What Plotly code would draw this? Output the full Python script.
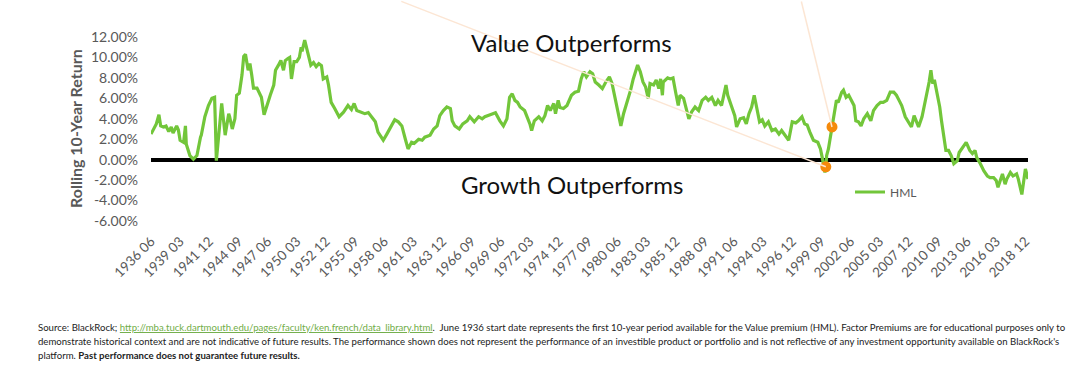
import plotly.graph_objects as go

# ---- data ----
dates = [
    "1936-06", "1936-09", "1936-12", "1937-03", "1937-05", "1937-08", "1937-11", "1938-02", "1938-05", "1938-07",
    "1938-11", "1939-01", "1939-03", "1939-07", "1939-09", "1939-10", "1940-02", "1940-06", "1940-10", "1941-02",
    "1941-03", "1941-07", "1941-11", "1942-03", "1942-06", "1942-07", "1942-08", "1942-11", "1943-02", "1943-06",
    "1943-08", "1943-10", "1943-11", "1944-02", "1944-05", "1944-07", "1944-10", "1945-01", "1945-03", "1945-05",
    "1945-08", "1945-10", "1945-12", "1946-02", "1946-06", "1946-08", "1946-11", "1947-02", "1947-05", "1947-09",
    "1948-01", "1948-03", "1948-06", "1948-09", "1948-12", "1949-02", "1949-05", "1949-07", "1949-09", "1949-12",
    "1950-03", "1950-06", "1950-08", "1950-09", "1950-12", "1951-03", "1951-07", "1951-10", "1952-01", "1952-04",
    "1952-07", "1952-09", "1953-01", "1953-03", "1953-06", "1953-10", "1954-03", "1954-08", "1955-01", "1955-05",
    "1955-08", "1955-11", "1956-05", "1956-08", "1956-12", "1957-04", "1957-08", "1957-11", "1958-05", "1958-09",
    "1959-02", "1959-06", "1959-10", "1960-02", "1960-06", "1960-09", "1961-01", "1961-04", "1961-09", "1962-01",
    "1962-04", "1962-10", "1963-02", "1963-06", "1963-09", "1964-01", "1964-05", "1964-09", "1964-11", "1965-02",
    "1965-07", "1965-11", "1966-04", "1966-07", "1966-12", "1967-05", "1967-09", "1967-12", "1968-06", "1968-12",
    "1969-05", "1969-09", "1970-01", "1970-04", "1970-07", "1970-10", "1971-01", "1971-04", "1971-09", "1972-01",
    "1972-03", "1972-05", "1972-08", "1973-01", "1973-05", "1973-08", "1973-11", "1974-02", "1974-06", "1974-08",
    "1974-11", "1975-01", "1975-05", "1975-09", "1976-02", "1976-06", "1976-10", "1977-01", "1977-04", "1977-07",
    "1977-11", "1978-02", "1978-05", "1978-09", "1979-01", "1979-05", "1979-09", "1979-12", "1980-04", "1980-07",
    "1980-10", "1981-01", "1981-05", "1981-09", "1981-12", "1982-03", "1982-05", "1982-08", "1982-11", "1983-02",
    "1983-05", "1983-07", "1983-11", "1984-02", "1984-05", "1984-07", "1984-09", "1984-10", "1985-03", "1985-06",
    "1985-09", "1985-12", "1986-03", "1986-05", "1986-09", "1987-01", "1987-03", "1987-06", "1987-10", "1988-02",
    "1988-06", "1988-10", "1989-01", "1989-05", "1989-09", "1989-12", "1990-04", "1990-09", "1990-11", "1991-03",
    "1991-07", "1991-09", "1992-01", "1992-05", "1992-08", "1992-11", "1993-02", "1993-05", "1993-08", "1993-11",
    "1994-02", "1994-05", "1994-09", "1995-01", "1995-05", "1995-09", "1995-12", "1996-04", "1996-08", "1996-12",
    "1997-04", "1997-07", "1997-11", "1998-02", "1998-05", "1998-08", "1998-12", "1999-05", "1999-08", "1999-10",
    "2000-01", "2000-02", "2000-03", "2000-05", "2000-09", "2000-11", "2001-02", "2001-04", "2001-08", "2001-10",
    "2002-01", "2002-04", "2002-07", "2002-10", "2002-12", "2003-03", "2003-06", "2003-09", "2004-01", "2004-05",
    "2004-08", "2004-12", "2005-04", "2005-07", "2005-11", "2006-03", "2006-07", "2006-10", "2007-01", "2007-04",
    "2007-08", "2007-12", "2008-03", "2008-06", "2008-08", "2008-11", "2009-03", "2009-06", "2009-09", "2009-11",
    "2010-01", "2010-03", "2010-05", "2010-08", "2010-11", "2011-01", "2011-04", "2011-06", "2011-09", "2011-12",
    "2012-03", "2012-07", "2012-09", "2013-01", "2013-05", "2013-09", "2013-12", "2014-03", "2014-05", "2014-09",
    "2015-01", "2015-05", "2015-08", "2015-12", "2016-03", "2016-05", "2016-08", "2016-10", "2017-01", "2017-03",
    "2017-07", "2017-10", "2018-02", "2018-04", "2018-08", "2018-10", "2018-12", "2019-03",
]
hml = [
    2.5, 3.0, 3.5, 4.4, 3.3, 3.2, 3.3, 2.75, 3.2, 2.6,
    3.3, 2.9, 1.9, 1.7, 3.3, 1.5, 0.4, 0.05, 0.4, 2.2,
    2.4, 4.2, 5.3, 6.0, 6.1, 3.3, -0.1, 2.7, 5.5, 2.4,
    3.7, 4.5, 4.2, 3.0, 4.0, 6.3, 6.5, 8.3, 10.1, 10.3,
    8.75, 9.4, 8.3, 7.0, 7.0, 6.6, 6.1, 4.4, 5.3, 6.3,
    7.3, 8.75, 9.2, 9.7, 8.75, 9.7, 9.9, 10.0, 7.9, 9.6,
    9.6, 10.0, 11.0, 10.6, 11.7, 10.55, 9.25, 9.5, 9.1, 9.4,
    9.2, 7.9, 8.1, 7.3, 5.6, 5.0, 4.2, 4.65, 5.3, 4.9,
    5.5, 4.8, 4.65, 4.5, 4.6, 4.2, 3.7, 2.7, 1.9, 2.5,
    3.3, 3.9, 3.7, 3.3, 2.0, 1.05, 1.7, 1.6, 2.0, 1.9,
    2.2, 2.4, 3.0, 3.3, 4.3, 4.8, 5.15, 5.0, 3.8, 3.3,
    3.0, 3.5, 3.8, 4.2, 3.7, 4.2, 4.0, 4.2, 4.4, 4.6,
    3.8, 3.3, 4.0, 6.1, 6.45, 5.8, 5.6, 5.15, 4.8, 4.0,
    3.5, 2.85, 3.8, 4.2, 3.8, 4.3, 5.3, 4.8, 5.5, 4.5,
    5.8, 5.1, 5.0, 5.3, 6.3, 6.6, 6.7, 7.9, 8.6, 8.1,
    8.6, 8.4, 7.6, 7.3, 6.95, 7.6, 8.1, 7.45, 5.8, 4.65,
    3.3, 4.5, 5.6, 6.8, 7.9, 8.75, 9.25, 8.6, 7.6, 7.1,
    6.0, 7.45, 7.3, 7.8, 6.95, 7.9, 6.3, 7.6, 8.0, 7.9,
    8.0, 6.6, 5.3, 6.3, 6.0, 4.65, 4.0, 4.65, 5.15, 4.8,
    5.8, 6.1, 5.8, 6.1, 5.3, 5.8, 5.3, 7.3, 6.3, 5.3,
    4.3, 3.2, 4.0, 4.1, 3.5, 4.5, 5.15, 6.3, 5.15, 3.7,
    3.9, 3.3, 3.7, 2.85, 3.0, 2.5, 2.85, 2.4, 1.9, 3.7,
    3.6, 3.8, 4.2, 3.5, 3.4, 2.7, 1.9, 1.7, 1.05, 0.2,
    -1.25, -0.7, 0.4, 1.05, 3.2, 4.4, 5.8, 5.6, 6.6, 6.8,
    6.1, 6.3, 5.8, 5.3, 3.8, 3.7, 3.3, 4.0, 4.5, 3.8,
    4.8, 5.3, 5.6, 5.6, 5.8, 6.6, 6.6, 6.3, 5.8, 5.3,
    4.2, 3.7, 3.2, 4.3, 3.8, 3.2, 4.2, 5.5, 6.45, 7.6,
    8.75, 7.45, 7.8, 6.45, 5.15, 3.8, 2.2, 0.9, 0.9, 0.4,
    -0.4, -0.1, 0.7, 1.2, 1.7, 0.9, 0.6, 0.9, 0.2, -0.4,
    -1.1, -1.6, -1.75, -1.75, -2.05, -2.7, -1.75, -1.4, -2.4, -1.9,
    -1.25, -1.6, -1.4, -1.9, -3.4, -2.2, -0.9, -1.9,
]
highlight_dates = ["2000-02", "2000-09"]
highlight_values = [-0.7, 3.2]

y_ticks = [-6, -4, -2, 0, 2, 4, 6, 8, 10, 12]
x_tick_start = "1936-06"
x_tick_step_months = 33
series_name = "HML"

GREEN = "#72C63A"
ORANGE = "#F58A0B"
GREY = "#595959"
LEADER = "#FCE6D4"

# ---- layout geometry (pixels) ----
W, H = 1080, 370
L, R, T, B = 151, 52, 37, 149
PW, PH = W - L - R, H - T - B


def px_x(p):
    return (p - L) / PW


def px_y(p):
    return (H - B - p) / PH


fig = go.Figure()
fig.add_trace(go.Scatter(
    x=dates, y=hml, mode="lines", name=series_name,
    line=dict(color=GREEN, width=3.2), showlegend=True,
))
fig.add_trace(go.Scatter(
    x=highlight_dates, y=highlight_values, mode="markers",
    marker=dict(color=ORANGE, size=11), showlegend=False,
))

# faint leader lines pointing to the highlighted points (pixel offsets of their far ends)
leader_offsets = [(-426, -166), (-31, -127)]
for d, v, (ax, ay) in zip(highlight_dates, highlight_values, leader_offsets):
    fig.add_annotation(x=d, y=v, ax=ax, ay=ay, showarrow=True, arrowhead=0,
                       arrowwidth=1.5, arrowcolor=LEADER, text="", standoff=0)

fig.add_annotation(x=px_x(571.5), y=px_y(42), xref="paper", yref="paper",
                   xanchor="center", yanchor="middle",
                   text="Value Outperforms", showarrow=False,
                   font=dict(family="Lato", size=24, color="#111111"))
fig.add_annotation(x=px_x(571.5), y=px_y(184), xref="paper", yref="paper",
                   xanchor="center", yanchor="middle",
                   text="Growth Outperforms", showarrow=False,
                   font=dict(family="Lato", size=24, color="#111111"))

fig.add_annotation(x=px_x(75), y=px_y(129), xref="paper", yref="paper",
                   xanchor="center", yanchor="middle",
                   text="<b>Rolling 10-Year Return</b>", textangle=-90, showarrow=False,
                   font=dict(family="Lato", size=16, color=GREY))

foot_font = dict(family="Lato", size=9.6, color="#222222")
foot_lines = [
    "Source: BlackRock; <span style='color:#70AD47'><u>http://mba.tuck.dartmouth.edu/pages/faculty/ken.french/data_library.html</u></span>.  June 1936 start date represents the first 10-year period available for the Value premium (HML). Factor Premiums are for educational purposes only to",
    "demonstrate historical context and are not indicative of future results. The performance shown does not represent the performance of an investible product or portfolio and is not reflective of any investment opportunity available on BlackRock's",
    "platform. <b>Past performance does not guarantee future results.</b>",
]
for line, yp in zip(foot_lines, [327, 341, 355]):
    fig.add_annotation(x=px_x(36), y=px_y(yp), xref="paper", yref="paper",
                       xanchor="left", yanchor="middle", text=line, showarrow=False,
                       font=foot_font)

fig.update_layout(
    width=W, height=H,
    margin=dict(l=L, r=R, t=T, b=B, autoexpand=False),
    paper_bgcolor="white", plot_bgcolor="white",
    legend=dict(x=px_x(850), y=px_y(192), xanchor="left", yanchor="middle",
                font=dict(family="Lato", size=12, color=GREY), bgcolor="rgba(0,0,0,0)"),
)
fig.update_xaxes(
    type="date", range=["1936-06-01", "2019-03-01"],
    tickmode="linear", tick0=x_tick_start + "-01", dtick="M%d" % x_tick_step_months,
    tickformat="%Y %m", tickangle=-45, showgrid=False, showline=False, zeroline=False,
    ticks="", ticklabelstandoff=9,
    tickfont=dict(family="Lato", size=13.5, color=GREY),
)
fig.update_yaxes(
    range=[y_ticks[0], y_ticks[-1]], tickmode="array", tickvals=y_ticks,
    ticktext=["%.2f%%" % v for v in y_ticks],
    showgrid=False, showline=False, zeroline=True, zerolinecolor="black", zerolinewidth=3.5,
    ticks="", ticklabelstandoff=12,
    tickfont=dict(family="Lato", size=14, color=GREY),
)

fig.write_html("out.html", config={"displayModeBar": False},
               post_script="document.body.style.margin='0';")
